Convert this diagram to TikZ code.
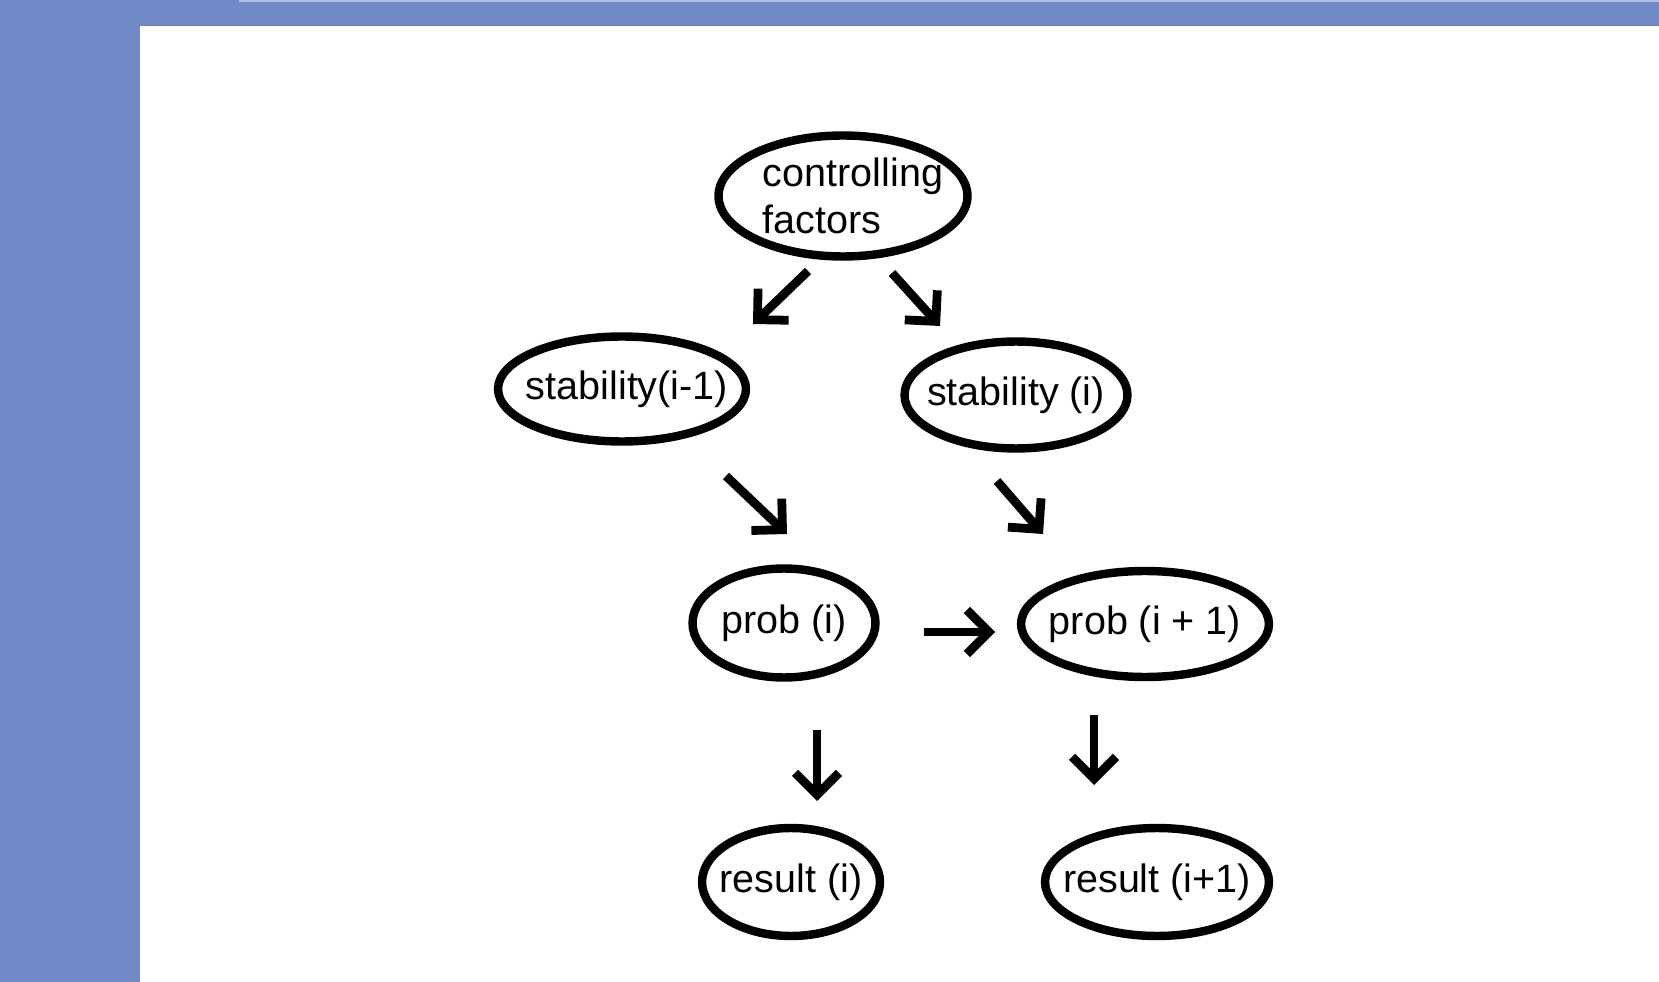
\documentclass[tikz,border=0pt]{standalone}
\usepackage{fontspec}
\setmainfont{Liberation Sans}
\usepackage{tikz}
\usetikzlibrary{shapes.geometric, arrows.meta}
\definecolor{bandblue}{HTML}{7289C8}
\definecolor{bandline}{HTML}{B3C0E2}

\begin{document}
\begin{tikzpicture}[
  x=0.02cm, y=-0.02cm,
  font=\fontsize{22.5}{26.5}\selectfont,
  blob/.style={ellipse, draw=black, line width=4.8pt, inner sep=0pt},
  arr/.style={-{Straight Barb[length=0.44cm, width=0.88cm, line cap=butt, line join=miter]}, line width=5pt, black}]
\useasboundingbox (0,0) rectangle (1659,982);

% frame
\fill[bandblue] (0,0) rectangle (1659,26);
\fill[bandblue] (0,0) rectangle (140,982);
\fill[bandline] (239,0) rectangle (1659,2);

% ellipses (text as centre labels so it can touch the rim)
\node[blob, minimum width=4.98cm, minimum height=2.42cm,
  label={[align=left, xshift=0.2cm]center:controlling\\factors}] (ctrl) at (843,196) {};
\node[blob, minimum width=4.96cm, minimum height=2.10cm, label={[xshift=0.1cm]center:stability(i-1)}] (stabA) at (622,389) {};
\node[blob, minimum width=4.46cm, minimum height=2.14cm, label={center:stability (i)}] (stabB) at (1016,395) {};
\node[blob, minimum width=3.66cm, minimum height=2.18cm, label={center:prob (i)}] (probA) at (784,623) {};
\node[blob, minimum width=4.96cm, minimum height=2.12cm, label={center:prob (i + 1)}] (probB) at (1145,624) {};
\node[blob, minimum width=3.56cm, minimum height=2.16cm, label={center:result (i)}] (resA) at (791,882) {};
\node[blob, minimum width=4.48cm, minimum height=2.16cm, label={center:result (i+1)}] (resB) at (1157,882) {};

% arrow ends
\coordinate (ctrlL) at (808,271);  \coordinate (stabAin) at (753,324);
\coordinate (ctrlR) at (892,273);  \coordinate (stabBin) at (940,326);
\coordinate (stabAout) at (726,476); \coordinate (probAin) at (787,534);
\coordinate (stabBout) at (997,481); \coordinate (probBin) at (1043,534);
\coordinate (probAr) at (924,632);  \coordinate (probBl) at (995,632);
\coordinate (probAout) at (817,730); \coordinate (resAin) at (817,801);
\coordinate (probBout) at (1094,715); \coordinate (resBin) at (1094,785);

\foreach \from/\to in {ctrlL/stabAin, ctrlR/stabBin, stabAout/probAin, stabBout/probBin,
  probAr/probBl, probAout/resAin, probBout/resBin}
  \draw[arr] (\from) -- (\to);
\end{tikzpicture}
\end{document}
